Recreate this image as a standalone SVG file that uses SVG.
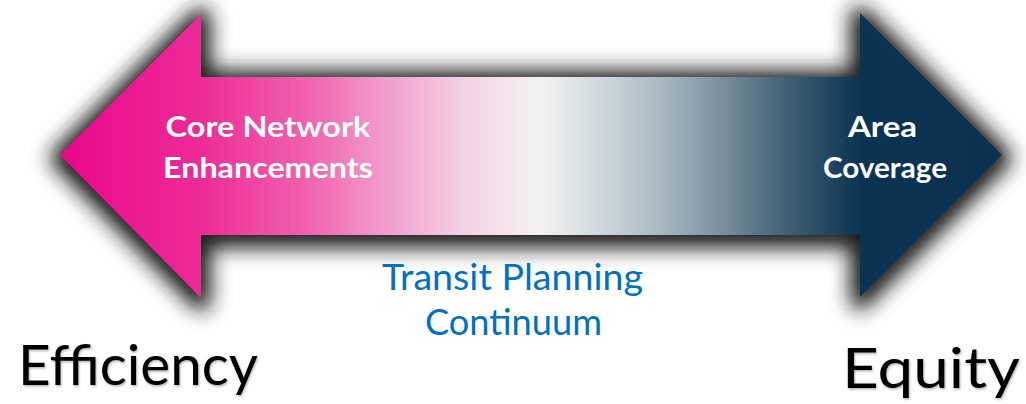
<svg xmlns="http://www.w3.org/2000/svg" width="1026" height="404" viewBox="0 0 1026 404">
  <defs>
    <linearGradient id="spectrum" gradientUnits="userSpaceOnUse" x1="60" y1="0" x2="1002" y2="0">
      <stop offset="0" stop-color="#e9078a"/>
      <stop offset="0.15" stop-color="#ee2b97"/>
      <stop offset="0.26" stop-color="#f061ae"/>
      <stop offset="0.34" stop-color="#f299cb"/>
      <stop offset="0.425" stop-color="#f4cfe3"/>
      <stop offset="0.51" stop-color="#f2f2f2"/>
      <stop offset="0.575" stop-color="#cfd8de"/>
      <stop offset="0.64" stop-color="#a7b7c1"/>
      <stop offset="0.70" stop-color="#7b91a0"/>
      <stop offset="0.765" stop-color="#456479"/>
      <stop offset="0.85" stop-color="#0b3352"/>
      <stop offset="1" stop-color="#0a3150"/>
    </linearGradient>
    <filter id="softShadow" x="-10%" y="-25%" width="120%" height="150%">
      <feGaussianBlur stdDeviation="10"/>
    </filter>
    <filter id="textShadow" x="-5%" y="-20%" width="110%" height="140%">
      <feDropShadow dx="1" dy="1.5" stdDeviation="1.2" flood-color="#000" flood-opacity="0.3"/>
    </filter>
    <path id="arrowShape" d="M60,155 L201,14 L201,77 L860,77 L860,13 L1002,155 L860,297 L860,235 L201,235 L201,298 Z"/>
  </defs>
  <style>
    .label { font-family: Lato, "Liberation Sans", sans-serif; font-weight: 700; font-size: 29px; fill: #ffffff; text-anchor: middle; }
    .caption { font-family: Lato, "Liberation Sans", sans-serif; font-size: 37px; fill: #0070c0; text-anchor: middle; }
    .pole { font-family: Lato, "Liberation Sans", sans-serif; font-size: 56px; fill: #000000; filter: url(#textShadow); }
  </style>

  <rect width="1026" height="404" fill="#ffffff"/>

  <!-- double-headed continuum arrow with a soft surrounding shadow -->
  <g id="continuum-arrow">
    <use href="#arrowShape" fill="#1e1e1e" stroke="#1e1e1e" stroke-width="20" stroke-linejoin="round" transform="translate(0,3)" filter="url(#softShadow)"/>
    <use href="#arrowShape" fill="url(#spectrum)"/>
  </g>

  <g id="core-network">
    <text class="label" x="268" y="137" textLength="205" lengthAdjust="spacingAndGlyphs">Core Network</text>
    <text class="label" x="268" y="178" textLength="210" lengthAdjust="spacingAndGlyphs">Enhancements</text>
  </g>

  <g id="area-coverage">
    <text class="label" x="882.5" y="137" textLength="69" lengthAdjust="spacingAndGlyphs">Area</text>
    <text class="label" x="885" y="178" textLength="124" lengthAdjust="spacingAndGlyphs">Coverage</text>
  </g>

  <g id="planning-continuum">
    <text class="caption" x="512.5" y="290" textLength="261" lengthAdjust="spacingAndGlyphs">Transit Planning</text>
    <text class="caption" x="513.5" y="335" textLength="177" lengthAdjust="spacingAndGlyphs">Continuum</text>
  </g>

  <g id="efficiency">
    <text class="pole" x="18" y="385" textLength="240" lengthAdjust="spacingAndGlyphs">Efficiency</text>
  </g>

  <g id="equity">
    <text class="pole" x="842" y="388" textLength="178" lengthAdjust="spacingAndGlyphs">Equity</text>
  </g>
</svg>
